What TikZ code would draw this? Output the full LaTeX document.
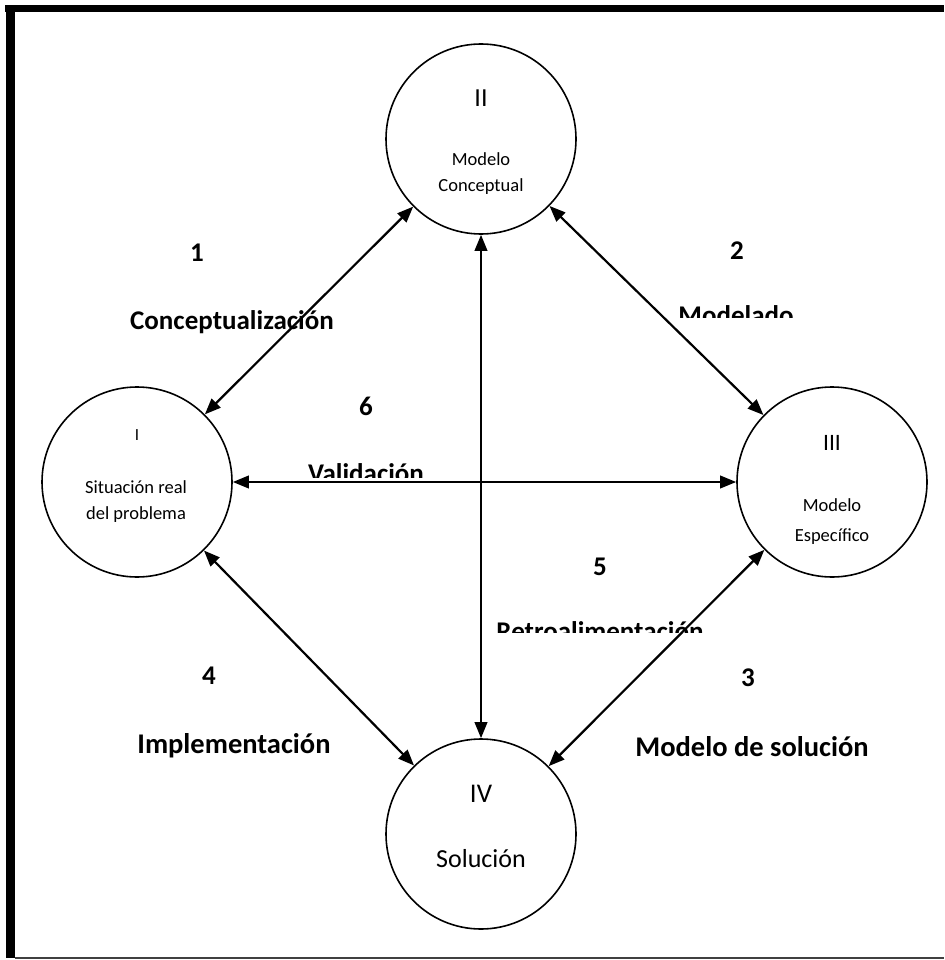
\documentclass[tikz,border=0pt]{standalone}
\usepackage{fontspec}
\setmainfont{Carlito}
\usetikzlibrary{arrows.meta}
\begin{document}
\begin{tikzpicture}[x=1pt,y=-1pt,
  state/.style={circle,draw,line width=1.6pt,minimum size=190pt,inner sep=0pt},
  link/.style={line width=2.2pt,{Triangle[length=16pt,width=12.5pt]}-{Triangle[length=16pt,width=12.5pt]}},
  lbl/.style={font=\fontsize{27}{32}\selectfont\bfseries,anchor=base,inner sep=0pt},
  lblb/.style={lbl,font=\fontsize{28.5}{34}\selectfont\bfseries},
  txt/.style={anchor=base,inner sep=0pt},
  sm/.style={txt,font=\fontsize{18.5}{22}\selectfont}]
\useasboundingbox (0,0) rectangle (944,960);
% frame
\fill (5,5) rectangle (944,12);
\fill (6,5) rectangle (15,958);
\draw[line width=2pt, black!75] (15,957.5) -- (944,957.5);
% states
\node[state] (I) at (137,482) {};
\node[state] (II) at (481,139) {};
\node[state] (III) at (832,482) {};
\node[state] (IV) at (481,834) {};
% texts in states
\node[txt,font=\fontsize{17}{20}\selectfont] (Ia) at (137,440) {I};
\node[sm] (Ib) at (136,493) {Situación real};
\node[sm] (Ic) at (136,519) {del problema};
\node[txt,font=\fontsize{26}{30}\selectfont] (IIa) at (481,107) {II};
\node[sm] (IIb) at (481,166) {Modelo};
\node[sm] (IIc) at (481,192) {Conceptual};
\node[txt,font=\fontsize{23.5}{28}\selectfont] (IIIa) at (832,450) {III};
\node[sm] (IIIb) at (832,511) {Modelo};
\node[sm] (IIIc) at (832,541) {Específico};
\node[txt,font=\fontsize{27}{32}\selectfont] (IVa) at (481,802) {IV};
\node[txt,font=\fontsize{26}{30}\selectfont] (IVb) at (481,867) {Solución};
% connectors
\draw[link] (I) -- (II);
\draw[link] (II) -- (III);
\draw[link] (III) -- (IV);
\draw[link] (I) -- (IV);
\draw[link] (I) -- (III);
\draw[link] (II) -- (IV);
% labels
\node[lbl] (n1) at (197,261) {1};
\node[lbl] (l1) at (232,329) {Conceptualización};
\node[lbl] (n2) at (737,259) {2};
\begin{scope}
  \clip (600,290) rectangle (900,317);
  \node[lbl] (l2) at (736,324.5) {Modelado};
\end{scope}
\node[lbl] (n6) at (366,415) {6};
\begin{scope}
  \clip (280,450) rectangle (460,477);
  \node[lbl] (l6) at (366,482.5) {Validación};
\end{scope}
\node[lbl] (n5) at (600,575) {5};
\begin{scope}
  \clip (480,605) rectangle (720,632);
  \node[lbl] (l5) at (600,640.5) {Retroalimentación};
\end{scope}
\node[lbl] (n4) at (209,684) {4};
\node[lblb] (l4) at (234,753) {Implementación};
\node[lbl] (n3) at (748,686) {3};
\node[lblb] (l3) at (752,756) {Modelo de solución};
\end{tikzpicture}
\end{document}
